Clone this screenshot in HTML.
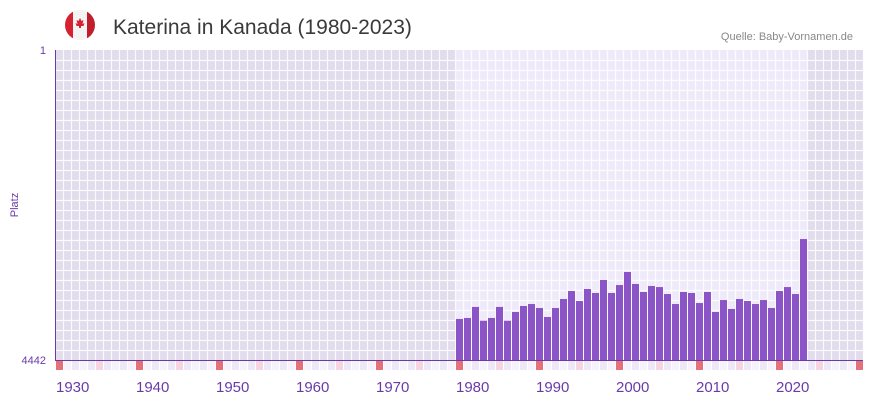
<!DOCTYPE html>
<html><head><meta charset="utf-8"><style>
body{margin:0;background:#fff;font-family:"Liberation Sans",sans-serif;}
svg{display:block}
</style></head><body>
<svg id="c" width="873" height="402">
<defs><clipPath id="fc"><circle cx="80" cy="25" r="15"/></clipPath></defs>
<g clip-path="url(#fc)">
<rect x="65" y="10" width="30" height="30" fill="#f4f4f4"/>
<rect x="65" y="10" width="8" height="30" fill="#d62230"/>
<rect x="87" y="10" width="8" height="30" fill="#c01e2a"/>
<path d="M80 18 l1.5 3 2-1 -1 4 2 -1 -1 3 h-2.5 v2 h-2 v-2 h-2.5 l-1 -3 2 1 -1 -4 2 1z" fill="#d62230"/>
</g>
<text x="113" y="34" font-size="21" fill="#3a3a3a">Katerina in Kanada (1980-2023)</text>
<text x="853" y="40" font-size="11" fill="#888" text-anchor="end">Quelle: Baby-Vornamen.de</text>
<g id="bg"></g><g id="grid"></g><g id="bars"></g><g id="marks"></g><g id="xl"></g>
<line x1="55.5" y1="50" x2="55.5" y2="360" stroke="#6a3aa8" stroke-width="1"/>
<line x1="55" y1="360.5" x2="863" y2="360.5" stroke="#6a3aa8" stroke-width="1"/>
<text x="46" y="54" font-size="11" fill="#6a3aa8" text-anchor="end">1</text>
<text x="46" y="364" font-size="11" fill="#6a3aa8" text-anchor="end">4442</text>
<text transform="translate(18,205) rotate(-90)" font-size="11" fill="#6a3aa8" text-anchor="middle">Platz</text>
</svg>
<script>
const years=[1980,1981,1982,1983,1984,1985,1986,1987,1988,1989,1990,1991,1992,1993,1994,1995,1996,1997,1998,1999,2000,2001,2002,2003,2004,2005,2006,2007,2008,2009,2010,2011,2012,2013,2014,2015,2016,2017,2018,2019,2020,2021,2022,2023];
const ranks=[3854,3840,3682,3879,3840,3682,3879,3754,3668,3640,3697,3826,3697,3568,3454,3597,3425,3482,3296,3482,3368,3181,3353,3468,3382,3397,3497,3640,3468,3482,3626,3468,3754,3583,3711,3568,3597,3640,3583,3697,3454,3397,3497,2709];
const tickYears=[1930,1940,1950,1960,1970,1980,1990,2000,2010,2020];
const NS="http://www.w3.org/2000/svg";
const X0=55,Y0=50,Y1=360,Y_MIN=1,Y_MAX=4442,FIRST=1930,LAST=2030;
function xs(y){return X0+1+(y-FIRST)*8;}
function ys(r){return Y0+(r-Y_MIN)/(Y_MAX-Y_MIN)*(Y1-Y0);}
function mk(t,a,p){const e=document.createElementNS(NS,t);for(const k in a)e.setAttribute(k,a[k]);p.appendChild(e);return e;}
const bg=document.getElementById('bg');
const ya=years[0],yb=years[years.length-1];
let r=mk('rect',{x:X0,y:Y0,width:xs(ya)-X0,height:Y1-Y0,fill:'#e2dcec'},bg);

r=mk('rect',{x:xs(ya),y:Y0,width:xs(yb+1)-xs(ya),height:Y1-Y0,fill:'#efeafa'},bg);

r=mk('rect',{x:xs(yb+1),y:Y0,width:863-xs(yb+1),height:Y1-Y0,fill:'#e2dcec'},bg);

const grid=document.getElementById('grid');
for(let y=FIRST;y<=LAST+1;y++){const l=mk('line',{x1:xs(y)-0.5,x2:xs(y)-0.5,y1:Y0,y2:Y1,stroke:'#fff','stroke-width':1.2,opacity:0.85},grid);
}
for(let y=Y0+10;y<Y1;y+=10){const l=mk('line',{x1:X0,x2:863,y1:y+0.5,y2:y+0.5,stroke:'#fff','stroke-width':1.2,opacity:0.85},grid);
}
const bars=document.getElementById('bars');
years.forEach((yr,i)=>{const t=ys(ranks[i]);const b=mk('rect',{x:xs(yr),y:t,width:7,height:Y1-t,fill:'#8b55c8'},bars);
});
const marks=document.getElementById('marks');
for(let y=FIRST;y<=LAST;y++){let c=(y%10==0)?'#e4707a':(y%5==0?'#f5d6e0':(y%2?'#f5f2fc':'#ede8f8'));
const m=mk('rect',{x:xs(y),y:361,width:7,height:9,fill:c},marks);
}
const xl=document.getElementById('xl');
tickYears.forEach(y=>{const t=mk('text',{x:xs(y),y:392,'font-size':15,fill:'#6a3aa8'},xl);t.textContent=y;
});
</script>
</body></html>
